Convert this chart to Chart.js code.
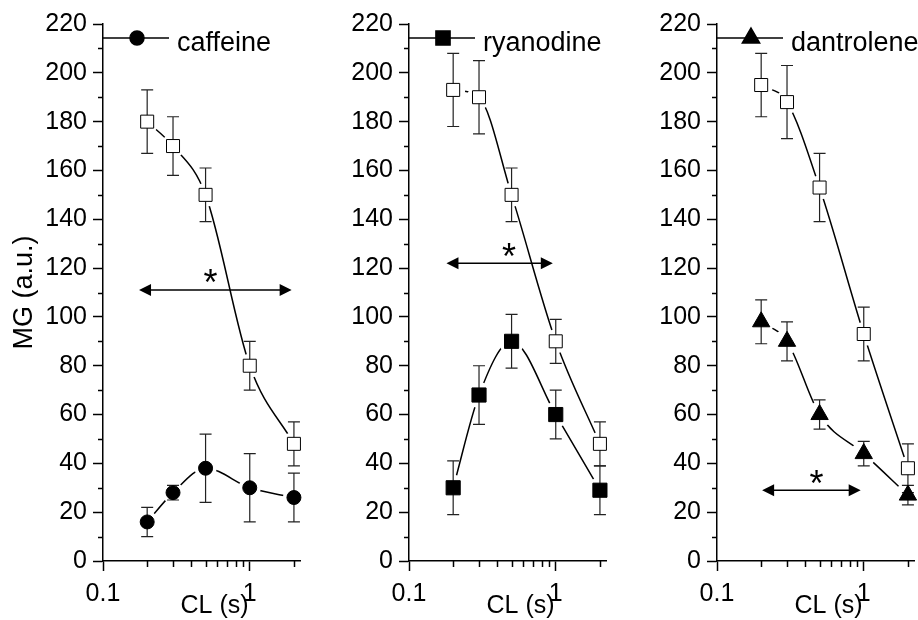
<!DOCTYPE html>
<html>
<head>
<meta charset="utf-8">
<script src="https://cdn.jsdelivr.net/npm/chart.js@4.4.1/dist/chart.umd.min.js"></script>
<style>
  html, body { margin: 0; padding: 0; background: #fff; }
  #wrap { position: relative; width: 918px; height: 620px; overflow: hidden; }
  #wrap canvas { position: absolute; top: 0; }
</style>
</head>
<body>
<div id="wrap">
  <canvas id="p0" width="304" height="620" style="left:0px"></canvas>
  <canvas id="p1" width="304" height="620" style="left:306px"></canvas>
  <canvas id="p2" width="304" height="620" style="left:614px"></canvas>
</div>
<script>
// ── data ────────────────────────────────────────────────
const CL = [0.2, 0.3, 0.5, 1, 2]
const xMajorTicks = [0.1, 1]
const xMinorTicks = [0.2, 0.3, 0.4, 0.5, 0.6, 0.7, 0.8, 0.9, 2]
const yMinorTicks = [10, 30, 50, 70, 90, 110, 130, 150, 170, 190, 210]

const drugNames  = ['caffeine', 'ryanodine', 'dantrolene']
const drugStyles = ['circle', 'rect', 'triangle']

const caffeineCtrl      = [180, 170, 150, 80, 48]
const caffeineCtrlErr   = [13, 12, 11, 10, 9]
const caffeine          = [16, 28, 38, 30, 26]
const caffeineErr       = [6, 3, 14, 14, 10]

const ryanodineCtrl     = [193, 190, 150, 90, 48]
const ryanodineCtrlErr  = [15, 15, 11, 9, 9]
const ryanodine         = [30, 68, 90, 60, 29]
const ryanodineErr      = [11, 12, 11, 10, 10]

const dantroleneCtrl    = [195, 188, 153, 93, 38]
const dantroleneCtrlErr = [13, 15, 14, 11, 10]
const dantrolene        = [98, 90, 60, 44, 27]
const dantroleneErr     = [9, 8, 6, 5, 4]

// significance arrows (* between ranges of CL)
const arrowFrom = [0.176, 0.18, 0.203]
const arrowTo   = [1.93, 0.955, 0.953]
const arrowY    = [111, 122, 29]
const starX     = [0.54, 0.48, 0.476]
const starY     = [117, 128, 35]

const ctrlSeries = [caffeineCtrl, ryanodineCtrl, dantroleneCtrl]
const ctrlErrs   = [caffeineCtrlErr, ryanodineCtrlErr, dantroleneCtrlErr]
const drugSeries = [caffeine, ryanodine, dantrolene]
const drugErrs   = [caffeineErr, ryanodineErr, dantroleneErr]

// ── styling ─────────────────────────────────────────────
const FONT = "'Liberation Sans', Arial, sans-serif"
const markR = { circle: 7, rect: 10, triangle: 10 }
const haloR = { circle: 11, rect: 13, triangle: 13 }

const pts = vals => CL.map((x, i) => ({ x, y: vals[i] }))

// error bars, minor ticks, legend, arrows, x title
const decor = {
  id: 'decor',
  beforeDatasetDraw(chart, args) {
    const ds = chart.data.datasets[args.index]
    if (!ds.errors) return
    const { ctx, scales: { x, y } } = chart
    ctx.save()
    ctx.strokeStyle = '#222'
    ctx.lineWidth = 1.2
    ds.data.forEach((p, i) => {
      const px = x.getPixelForValue(p.x)
      const hi = y.getPixelForValue(p.y + ds.errors[i])
      const lo = y.getPixelForValue(p.y - ds.errors[i])
      ctx.beginPath()
      ctx.moveTo(px, hi); ctx.lineTo(px, lo)
      ctx.moveTo(px - 6, hi); ctx.lineTo(px + 6, hi)
      ctx.moveTo(px - 6, lo); ctx.lineTo(px + 6, lo)
      ctx.stroke()
    })
    ctx.restore()
  },
  afterDraw(chart) {
    const { ctx, chartArea: a, scales: { x, y } } = chart
    const k = chart.options.plugins.decor.panel
    ctx.save()
    ctx.strokeStyle = '#000'
    ctx.fillStyle = '#000'
    ctx.lineWidth = 1.5

    // minor ticks
    ctx.beginPath()
    yMinorTicks.forEach(v => {
      const py = Math.round(y.getPixelForValue(v)) + 0.5
      ctx.moveTo(a.left, py); ctx.lineTo(a.left - 5, py)
    })
    xMinorTicks.forEach(v => {
      const px = Math.round(x.getPixelForValue(v)) + 0.5
      ctx.moveTo(px, a.bottom); ctx.lineTo(px, a.bottom + 6)
    })
    ctx.stroke()

    // legend
    const ly = a.top + 14
    ctx.beginPath()
    ctx.moveTo(a.left, ly); ctx.lineTo(a.left + 66, ly)
    ctx.stroke()
    Chart.helpers.drawPoint(ctx, { pointStyle: drugStyles[k], radius: markR[drugStyles[k]], rotation: 0, borderWidth: 1 }, a.left + 34, ly)
    ctx.font = '27px ' + FONT
    ctx.textAlign = 'left'
    ctx.textBaseline = 'alphabetic'
    ctx.fillText(drugNames[k], a.left + 74, ly + 13)

    // arrow
    const ax1 = x.getPixelForValue(arrowFrom[k])
    const ax2 = x.getPixelForValue(arrowTo[k])
    const ay = y.getPixelForValue(arrowY[k])
    ctx.beginPath()
    ctx.moveTo(ax1 + 8, ay); ctx.lineTo(ax2 - 8, ay)
    ctx.stroke()
    ctx.beginPath()
    ctx.moveTo(ax1, ay); ctx.lineTo(ax1 + 12, ay - 6); ctx.lineTo(ax1 + 12, ay + 6); ctx.closePath()
    ctx.moveTo(ax2, ay); ctx.lineTo(ax2 - 12, ay - 6); ctx.lineTo(ax2 - 12, ay + 6); ctx.closePath()
    ctx.fill()

    // star
    ctx.font = '36px ' + FONT
    ctx.textAlign = 'center'
    ctx.fillText('*', x.getPixelForValue(starX[k]), y.getPixelForValue(starY[k]) + 20)

    // x title
    ctx.font = '25px ' + FONT
    ctx.fillText('CL (s)', (a.left + a.right) / 2 + 13, 613)
    ctx.restore()
  }
}

function makePanel(k) {
  const style = drugStyles[k]
  const lineDs = vals => ({
    data: pts(vals), showLine: true, pointRadius: 0, borderColor: '#000', borderWidth: 1.5,
    tension: 0.4, cubicInterpolationMode: 'monotone', order: 5, clip: false
  })
  const haloDs = (vals, r) => ({
    data: pts(vals), showLine: false, pointStyle: 'circle', pointRadius: r,
    pointBackgroundColor: '#fff', pointBorderWidth: 0, order: 4, clip: false
  })
  return new Chart(document.getElementById('p' + k), {
    type: 'scatter',
    data: {
      datasets: [
        lineDs(ctrlSeries[k]),
        lineDs(drugSeries[k]),
        haloDs(ctrlSeries[k], 12),
        haloDs(drugSeries[k], haloR[style]),
        {
          data: pts(ctrlSeries[k]), errors: ctrlErrs[k], showLine: false,
          pointStyle: 'rect', pointRadius: 9.2, pointBackgroundColor: '#fff',
          pointBorderColor: '#000', pointBorderWidth: 1, order: 2, clip: false
        },
        {
          data: pts(drugSeries[k]), errors: drugErrs[k], showLine: false,
          pointStyle: style, pointRadius: markR[style], pointBackgroundColor: '#000',
          pointBorderColor: '#000', pointBorderWidth: 1, order: 1, clip: false
        }
      ]
    },
    options: {
      responsive: false,
      animation: false,
      events: [],
      layout: { autoPadding: false, padding: { top: 24, right: 4, left: 0, bottom: 0 } },
      plugins: { legend: { display: false }, tooltip: { enabled: false }, decor: { panel: k } },
      scales: {
        x: {
          type: 'logarithmic', min: 0.1, max: 2.2,
          afterBuildTicks: s => { s.ticks = xMajorTicks.map(v => ({ value: v, major: true })) },
          afterFit: s => { s.height = 59 },
          ticks: { callback: v => String(v), color: '#000', font: { family: FONT, size: 25 }, padding: 8, maxRotation: 0, autoSkip: false },
          grid: { drawOnChartArea: false, tickLength: 10, tickWidth: 1.5, tickColor: '#000' },
          border: { color: '#000', width: 1.5 }
        },
        y: {
          type: 'linear', min: 0, max: 220,
          afterFit: s => { s.width = 103 },
          ticks: { stepSize: 20, color: '#000', font: { family: FONT, size: 25 }, padding: 6 },
          grid: { drawOnChartArea: false, tickLength: 10, tickWidth: 1.5, tickColor: '#000' },
          border: { color: '#000', width: 1.5 },
          title: { display: k === 0, text: 'MG (a.u.)', color: '#000', font: { family: FONT, size: 27 }, padding: { top: 8, bottom: 0 } }
        }
      }
    },
    plugins: [decor]
  })
}

[0, 1, 2].forEach(makePanel)
</script>
</body>
</html>
